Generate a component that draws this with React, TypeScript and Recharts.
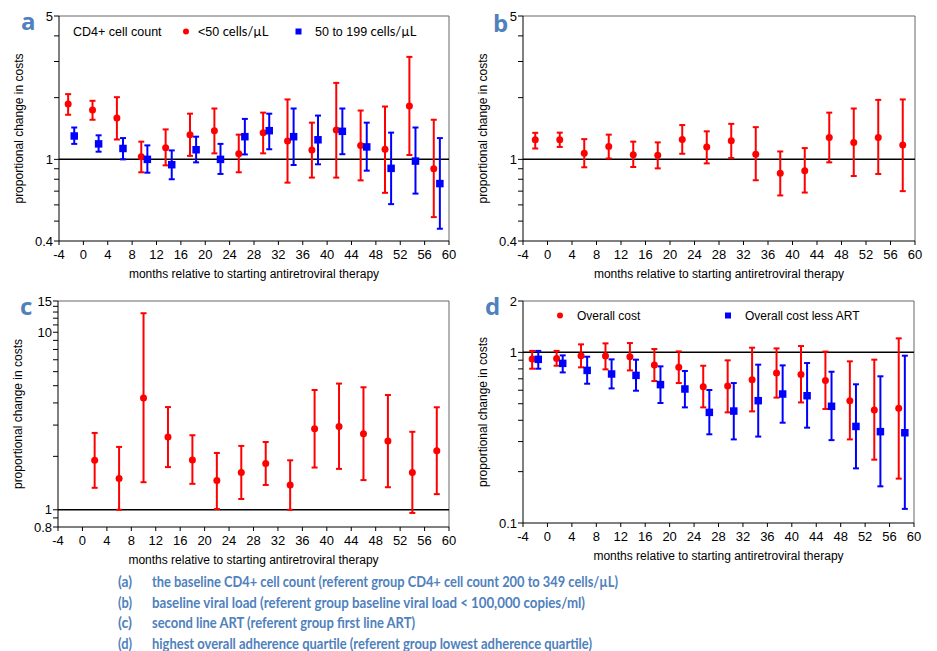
import React from 'react';
import { ScatterChart, Scatter, XAxis, YAxis, ErrorBar, ReferenceLine } from 'recharts';

// months relative to ART start (bin centres)
const months = [-2, 2, 6, 10, 14, 18, 22, 26, 30, 34, 38, 42, 46, 50, 54, 58];
const monthsC = [2, 6, 10, 14, 18, 22, 26, 30, 34, 38, 42, 46, 50, 54, 58];
const xTicks = [-4, 0, 4, 8, 12, 16, 20, 24, 28, 32, 36, 40, 44, 48, 52, 56, 60];
const dodge = 0.5;

// a: baseline CD4+ count
const cd4Under50 = [1.86, 1.74, 1.59, 1.03, 1.14, 1.32, 1.38, 1.065, 1.35, 1.23, 1.11, 1.39, 1.17, 1.12, 1.82, 0.9];
const cd4Under50Lo = [1.65, 1.56, 1.25, 0.865, 0.935, 1.04, 1.07, 0.865, 1.07, 0.77, 0.815, 0.815, 0.79, 0.687, 1.05, 0.523];
const cd4Under50Hi = [2.08, 1.93, 2.01, 1.22, 1.4, 1.67, 1.77, 1.32, 1.69, 1.96, 1.51, 2.36, 1.73, 1.81, 3.16, 1.56];
const cd450to199 = [1.3, 1.19, 1.13, 1.0, 0.942, 1.114, 1.0, 1.29, 1.38, 1.29, 1.246, 1.37, 1.15, 0.904, 0.981, 0.762];
const cd450to199Lo = [1.19, 1.09, 1.0, 0.861, 0.8, 0.967, 0.849, 1.057, 1.12, 0.939, 0.946, 1.06, 0.881, 0.605, 0.681, 0.459];
const cd450to199Hi = [1.43, 1.31, 1.27, 1.17, 1.106, 1.29, 1.19, 1.575, 1.67, 1.77, 1.635, 1.77, 1.51, 1.35, 1.43, 1.27];

// b: baseline viral load
const viralLoad = [1.246, 1.246, 1.07, 1.156, 1.054, 1.046, 1.25, 1.148, 1.232, 1.06, 0.855, 0.881, 1.279, 1.21, 1.279, 1.174];
const viralLoadLo = [1.13, 1.15, 0.915, 1.01, 0.918, 0.904, 1.065, 0.956, 1.015, 0.791, 0.667, 0.689, 0.967, 0.83, 0.849, 0.7];
const viralLoadHi = [1.347, 1.35, 1.255, 1.32, 1.22, 1.21, 1.47, 1.37, 1.49, 1.436, 1.093, 1.135, 1.69, 1.77, 1.95, 1.96];

// c: second line ART
const secondLine = [1.9, 1.5, 4.26, 2.57, 1.91, 1.46, 1.62, 1.82, 1.38, 2.86, 2.95, 2.68, 2.44, 1.62, 2.15];
const secondLineLo = [1.33, 1.0, 1.43, 1.74, 1.4, 1.01, 1.15, 1.38, 1.0, 1.73, 1.7, 1.47, 1.34, 0.96, 1.225];
const secondLineHi = [2.71, 2.26, 12.8, 3.79, 2.63, 2.09, 2.29, 2.41, 1.9, 4.73, 5.14, 4.9, 4.43, 2.75, 3.78];

// d: highest adherence quartile
const overallCost = [0.914, 0.922, 0.956, 0.952, 0.943, 0.843, 0.817, 0.629, 0.635, 0.692, 0.757, 0.743, 0.685, 0.521, 0.459, 0.47];
const overallCostLo = [0.802, 0.835, 0.817, 0.795, 0.784, 0.679, 0.661, 0.476, 0.445, 0.451, 0.543, 0.509, 0.466, 0.309, 0.235, 0.182];
const overallCostHi = [1.02, 1.02, 1.114, 1.129, 1.134, 1.046, 1.013, 0.835, 0.898, 1.065, 1.055, 1.089, 1.01, 0.886, 0.906, 1.208];
const lessArt = [0.91, 0.862, 0.784, 0.747, 0.733, 0.647, 0.61, 0.445, 0.453, 0.521, 0.57, 0.557, 0.483, 0.368, 0.343, 0.338];
const lessArtLo = [0.802, 0.763, 0.655, 0.615, 0.596, 0.505, 0.476, 0.331, 0.309, 0.321, 0.387, 0.362, 0.306, 0.209, 0.164, 0.121];
const lessArtHi = [1.02, 0.96, 0.943, 0.91, 0.906, 0.828, 0.778, 0.602, 0.661, 0.847, 0.839, 0.866, 0.77, 0.65, 0.724, 0.956];

const ticksAB = [0.4, 0.5, 0.6, 0.7, 0.8, 0.9, 1, 2, 3, 4, 5];
const ticksC = [0.8, 0.9, 1, 2, 3, 4, 5, 6, 7, 8, 9, 10, 11, 12, 13, 14, 15];
const ticksD = [0.1, 0.2, 0.3, 0.4, 0.5, 0.6, 0.7, 0.8, 0.9, 1, 2];

const captionTags = ['(a)', '(b)', '(c)', '(d)'];
const captionTexts = [
  'the baseline CD4+ cell count (referent group CD4+ cell count 200 to 349 cells/µL)',
  'baseline viral load (referent group baseline viral load < 100,000 copies/ml)',
  'second line ART (referent group first line ART)',
  'highest overall adherence quartile (referent group lowest adherence quartile)',
];
const captionWidths = [466, 433, 263, 440];

const RED = '#ff0000';
const BLUE = '#0000ff';
const LABEL_BLUE = '#4f81bd';
const FONT = '"Liberation Sans", Arial, sans-serif';

const toPoints = (xs: number[], vals: number[], lo: number[], hi: number[], shift = 0) =>
  xs.map((m, i) => ({ x: m + shift, y: vals[i], err: [vals[i] - lo[i], hi[i] - vals[i]] }));

const RedDot = (p: any) => <circle cx={p.cx} cy={p.cy} r={3.5} fill={RED} />;
const BlueSquare = (p: any) => <rect x={p.cx - 3.75} y={p.cy - 3.75} width={7.5} height={7.5} fill={BLUE} />;

const XLabel = (props: any) => {
  const { x, y, width } = props.viewBox;
  return (
    <text x={x + width / 2} y={y + 33} textAnchor="middle" dominantBaseline="central" fontSize={12} fill="#000">
      months relative to starting antiretroviral therapy
    </text>
  );
};

const YLabel = (props: any) => {
  const { x, y, width, height } = props.viewBox;
  const cx = x + width - 40;
  const cy = y + height / 2;
  return (
    <text x={cx} y={cy} transform={`rotate(-90 ${cx} ${cy})`} textAnchor="middle" dominantBaseline="central" fontSize={12} fill="#000">
      proportional change in costs
    </text>
  );
};

const yTick = (labelled: number[]) => (props: any) => {
  const v = props.payload.value;
  if (!labelled.some((l) => Math.abs(l - v) < 1e-9)) return <g />;
  return (
    <text x={props.x + 1} y={props.y} dy="0.36em" textAnchor="end" fontSize={13} fill="#000">
      {v}
    </text>
  );
};

interface Series {
  name: string;
  color: string;
  shape: any;
  data: { x: number; y: number; err: number[] }[];
}

interface PanelProps {
  left: number;
  top: number;
  width: number;
  height: number;
  margin: { top: number; right: number; bottom: number; left: number };
  yAxisWidth: number;
  yDomain: [number, number];
  yTicks: number[];
  yLabelled: number[];
  series: Series[];
}

function Panel({ left, top, width, height, margin, yAxisWidth, yDomain, yTicks, yLabelled, series }: PanelProps) {
  return (
    <div style={{ position: 'absolute', left, top }}>
      <ScatterChart width={width} height={height} margin={margin}>
        <XAxis
          type="number"
          dataKey="x"
          domain={[-4, 60]}
          ticks={xTicks}
          interval={0}
          allowDataOverflow
          height={44}
          tickSize={4}
          tickMargin={5}
          stroke="#000"
          tick={{ fill: '#000', fontSize: 13 }}
          label={{ content: XLabel }}
        />
        <YAxis
          type="number"
          dataKey="y"
          scale="log"
          domain={yDomain}
          ticks={yTicks}
          interval={0}
          allowDataOverflow
          width={yAxisWidth}
          tickSize={5}
          tickMargin={2}
          stroke="#000"
          tick={yTick(yLabelled)}
          label={{ content: YLabel }}
        />
        <ReferenceLine y={yDomain[1]} stroke="#666" />
        <ReferenceLine x={60} stroke="#666" />
        <ReferenceLine y={1} stroke="#000" strokeWidth={1.5} />
        {series.map((s) => (
          <Scatter key={s.name} name={s.name} data={s.data} fill={s.color} shape={s.shape} isAnimationActive={false}>
            <ErrorBar dataKey="err" direction="y" width={3} strokeWidth={2} stroke={s.color} isAnimationActive={false} />
          </Scatter>
        ))}
      </ScatterChart>
    </div>
  );
}

export default function App() {
  const letterStyle = { fontFamily: '"Open Sans", sans-serif', fontWeight: 700, fontSize: 24, fill: LABEL_BLUE };
  return (
    <div style={{ position: 'absolute', left: 0, top: 0, width: 937, height: 651, background: '#fff', fontFamily: FONT }}>
      <Panel
        left={0}
        top={0}
        width={460}
        height={285}
        margin={{ top: 16, right: 11, bottom: 0, left: 0 }}
        yAxisWidth={59}
        yDomain={[0.4, 5]}
        yTicks={ticksAB}
        yLabelled={[0.4, 1, 5]}
        series={[
          { name: '<50', color: RED, shape: RedDot, data: toPoints(months, cd4Under50, cd4Under50Lo, cd4Under50Hi, -dodge) },
          { name: '50-199', color: BLUE, shape: BlueSquare, data: toPoints(months, cd450to199, cd450to199Lo, cd450to199Hi, dodge) },
        ]}
      />
      <Panel
        left={464}
        top={0}
        width={460}
        height={285}
        margin={{ top: 16, right: 9, bottom: 0, left: 0 }}
        yAxisWidth={59}
        yDomain={[0.4, 5]}
        yTicks={ticksAB}
        yLabelled={[0.4, 1, 5]}
        series={[{ name: 'vl', color: RED, shape: RedDot, data: toPoints(months, viralLoad, viralLoadLo, viralLoadHi) }]}
      />
      <Panel
        left={0}
        top={285}
        width={460}
        height={286}
        margin={{ top: 16, right: 11, bottom: 0, left: 0 }}
        yAxisWidth={58}
        yDomain={[0.8, 15]}
        yTicks={ticksC}
        yLabelled={[0.8, 1, 10, 15]}
        series={[{ name: 'second', color: RED, shape: RedDot, data: toPoints(monthsC, secondLine, secondLineLo, secondLineHi) }]}
      />
      <Panel
        left={464}
        top={285}
        width={460}
        height={282}
        margin={{ top: 16, right: 10, bottom: 0, left: 0 }}
        yAxisWidth={59}
        yDomain={[0.1, 2]}
        yTicks={ticksD}
        yLabelled={[0.1, 1, 2]}
        series={[
          { name: 'overall', color: RED, shape: RedDot, data: toPoints(months, overallCost, overallCostLo, overallCostHi, -dodge) },
          { name: 'lessArt', color: BLUE, shape: BlueSquare, data: toPoints(months, lessArt, lessArtLo, lessArtHi, dodge) },
        ]}
      />

      <svg width={937} height={651} style={{ position: 'absolute', left: 0, top: 0, pointerEvents: 'none' }}>
        {/* panel letters */}
        <text x={21} y={30} style={letterStyle}>a</text>
        <text x={493} y={32} style={letterStyle}>b</text>
        <text x={20} y={315} style={letterStyle}>c</text>
        <text x={485} y={315} style={letterStyle}>d</text>

        {/* legend a */}
        <g fontFamily={FONT} fontSize={12.5} fill="#000">
          <text x={73} y={35.5}>CD4+ cell count</text>
          <circle cx={186} cy={31.5} r={3} fill={RED} />
          <text x={198} y={35.5}>
            {'<50 '}
            <tspan fontFamily="Lato, sans-serif" fontSize={13}>cells/µL</tspan>
          </text>
          <rect x={295.5} y={28.5} width={6} height={6} fill={BLUE} />
          <text x={315} y={35.5}>
            {'50 to 199 '}
            <tspan fontFamily="Lato, sans-serif" fontSize={13}>cells/µL</tspan>
          </text>
        </g>

        {/* legend d */}
        <g fontFamily={FONT} fontSize={12} fill="#000">
          <circle cx={560} cy={315.5} r={3} fill={RED} />
          <text x={577} y={320}>Overall cost</text>
          <rect x={725} y={312.5} width={6} height={6} fill={BLUE} />
          <text x={745} y={320}>Overall cost less ART</text>
        </g>

        {/* caption */}
        <g fontFamily="Lato, sans-serif" fontWeight={700} fontSize={15.5} fill={LABEL_BLUE}>
          {captionTexts.map((text, i) => (
            <g key={captionTags[i]}>
              <text x={118} y={587 + i * 20.7} textLength={14} lengthAdjust="spacingAndGlyphs">
                {captionTags[i]}
              </text>
              <text x={152} y={587 + i * 20.7} textLength={captionWidths[i]} lengthAdjust="spacingAndGlyphs">
                {text}
              </text>
            </g>
          ))}
        </g>
      </svg>
    </div>
  );
}
